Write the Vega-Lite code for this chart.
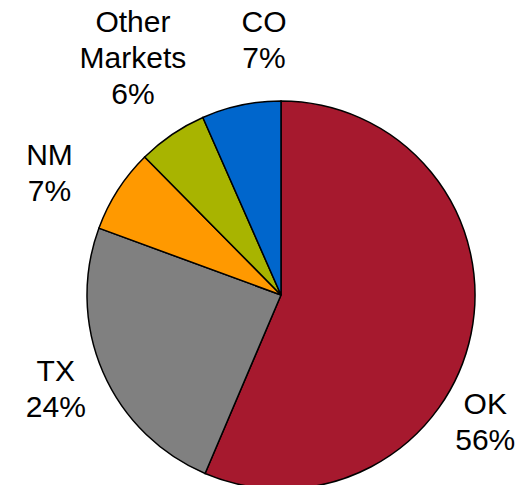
{
  "$schema": "https://vega.github.io/schema/vega-lite/v6.json",
  "width": 492,
  "height": 380,
  "autosize": "none",
  "padding": {"left": 35, "top": 105, "right": 0, "bottom": 0},
  "background": "white",
  "data": {
    "values": [
      {"cat": "OK", "label": "OK\n56%", "pct": 56.4, "ord": 1},
      {"cat": "TX", "label": "TX\n24%", "pct": 24.2, "ord": 2},
      {"cat": "NM", "label": "NM\n7%", "pct": 7.0, "ord": 3},
      {"cat": "Other Markets", "label": "Other\nMarkets\n6%", "pct": 5.8, "ord": 4},
      {"cat": "CO", "label": "CO\n7%", "pct": 6.6, "ord": 5}
    ]
  },
  "encoding": {
    "theta": {"field": "pct", "type": "quantitative", "stack": true},
    "order": {"field": "ord", "type": "quantitative"}
  },
  "layer": [
    {
      "mark": {"type": "arc", "outerRadius": 194, "stroke": "black", "strokeWidth": 1.5},
      "encoding": {
        "color": {
          "field": "cat",
          "type": "nominal",
          "scale": {
            "domain": ["OK", "TX", "NM", "Other Markets", "CO"],
            "range": ["#A6192E", "#808080", "#FF9900", "#A8B400", "#0066CC"]
          },
          "legend": null
        }
      }
    },
    {
      "mark": {
        "type": "text",
        "radius": 240,
        "font": "Liberation Sans",
        "fontSize": 30,
        "lineBreak": "\n",
        "lineHeight": 36,
        "align": "center",
        "baseline": "middle",
        "color": "black",
        "thetaOffset": {"expr": "datum.cat === 'OK' ? 0.293 : datum.cat === 'TX' ? 0.079 : datum.cat === 'NM' ? -0.031 : datum.cat === 'Other Markets' ? 0.099 : 0.145"},
        "radiusOffset": {"expr": "datum.cat === 'OK' ? -8 : datum.cat === 'TX' ? -2 : datum.cat === 'NM' ? 30 : datum.cat === 'Other Markets' ? 70 : 33"}
      },
      "encoding": {
        "text": {"field": "label", "type": "nominal"}
      }
    }
  ]
}
